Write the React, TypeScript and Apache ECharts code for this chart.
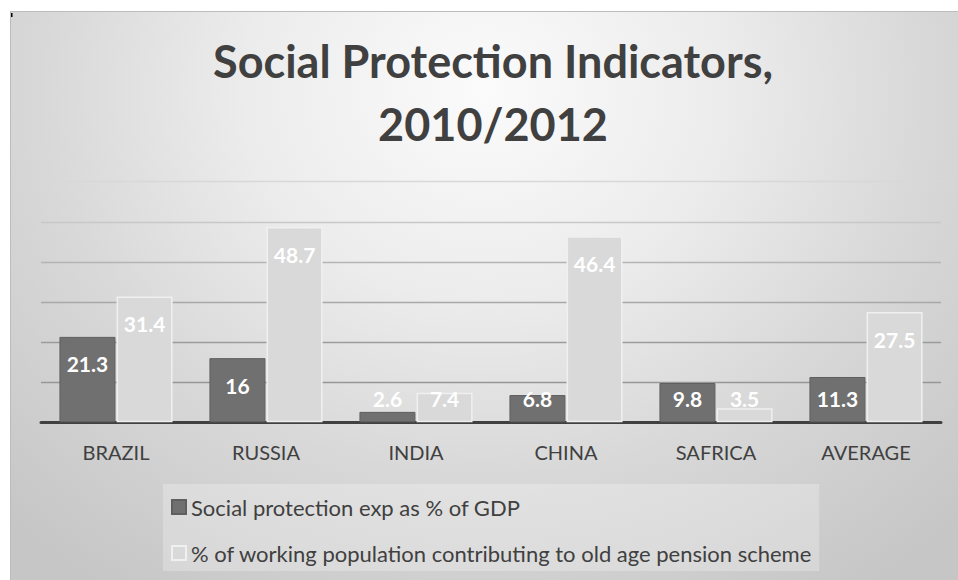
import React, { useEffect, useRef } from "react";
import * as echarts from "echarts";

const categories = ["BRAZIL", "RUSSIA", "INDIA", "CHINA", "SAFRICA", "AVERAGE"];
const socialExpGdp = [21.3, 16, 2.6, 6.8, 9.8, 11.3];
const pensionContrib = [31.4, 48.7, 7.4, 46.4, 3.5, 27.5];
const seriesNames = [
  "Social protection exp as % of GDP",
  "% of working population contributing to old age pension scheme",
];
const titleLines = ["Social Protection Indicators,", "2010/2012"];

const FONT = "Lato";
const TEXT = "#404040";

function labelled(values: number[]) {
  return values.map((v) => ({
    value: v,
    label: v > 13
      ? { position: "insideTop", distance: 15 }
      : { position: "insideBottom", distance: 12 },
  }));
}

export default function App() {
  const ref = useRef<HTMLDivElement>(null);
  useEffect(() => {
    if (!ref.current) return;
    const chart = echarts.init(ref.current, null, { renderer: "svg" });
    const label = {
      show: true,
      color: "#ffffff",
      fontFamily: FONT,
      fontWeight: "bold",
      fontSize: 21,
      lineHeight: 24,
    };
    chart.setOption({
      animation: false,
      backgroundColor: "transparent",
      title: {
        text: titleLines.join("\n"),
        left: 483,
        top: 18,
        textAlign: "center",
        padding: 0,
        textStyle: {
          fontFamily: FONT,
          fontWeight: "bold",
          fontSize: 45,
          lineHeight: 63,
          color: TEXT,
        },
      },
      graphic: [
        { type: "rect", shape: { x: 1, y: 2, width: 1.5, height: 4 }, style: { fill: "#000" }, silent: true },
      ],
      legend: {
        orient: "vertical",
        left: 153,
        top: 473,
        padding: [11, 7, 6, 8],
        itemGap: 22,
        itemWidth: 14,
        itemHeight: 14,
        icon: "rect",
        backgroundColor: "rgba(255,255,255,0.25)",
        textStyle: { fontFamily: FONT, fontSize: 22, lineHeight: 24, color: TEXT },
        data: seriesNames,
      },
      grid: { left: 31, right: 17, top: 170.7, bottom: 157.7 },
      xAxis: {
        type: "category",
        data: categories,
        axisLine: { lineStyle: { color: "#404040", width: 3 } },
        axisTick: { show: false },
        axisLabel: { fontFamily: FONT, fontSize: 20, color: TEXT, margin: 20 },
      },
      yAxis: {
        type: "value",
        min: 0,
        max: 60,
        interval: 10,
        axisLabel: { show: false },
        axisLine: { show: false },
        axisTick: { show: false },
        splitLine: {
          lineStyle: {
            width: 1.3,
            color: ["#969696", "#969696", "#9c9c9c", "#a8a8a8", "#b4b4b4", "#c8c8c8", "#d8d8d8"],
          },
        },
      },
      series: [
        {
          name: seriesNames[0],
          type: "bar",
          barWidth: 56,
          barGap: "2%",
          data: labelled(socialExpGdp),
          itemStyle: { color: "#707070", borderColor: "#5f5f5f", borderWidth: 1 },
          label,
        },
        {
          name: seriesNames[1],
          type: "bar",
          barWidth: 56,
          data: labelled(pensionContrib),
          itemStyle: { color: "#d9d9d9", borderColor: "#f0f0f0", borderWidth: 1.5 },
          label,
        },
      ],
    });
    return () => chart.dispose();
  }, []);
  return (
    <div
      ref={ref}
      style={{
        position: "absolute",
        left: 10,
        top: 11,
        width: 948,
        height: 569,
        background:
          "radial-gradient(ellipse 72% 105% at 50% 14%, #fbfbfb 0%, #ececec 35%, #d8d8d8 65%, #c6c6c6 100%)",
        boxShadow: "inset 1px 1px 0 #bcbcbc",
      }}
    />
  );
}
